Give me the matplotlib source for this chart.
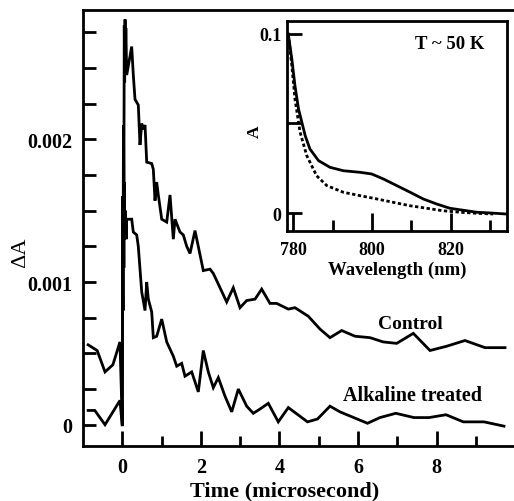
import matplotlib
matplotlib.use("Agg")
import matplotlib.pyplot as plt
import matplotlib.ticker as mticker

# ---------------------------------------------------------------------------
# Data
# ---------------------------------------------------------------------------
control_t = [-0.87, -0.64, -0.44, -0.24, -0.06, 0.0, 0.01, 0.02, 0.03, 0.04,
             0.05, 0.06, 0.07, 0.08, 0.09, 0.112, 0.239, 0.28, 0.323, 0.407,
             0.45, 0.494, 0.534, 0.578, 0.621, 0.748, 0.789, 0.832, 0.875,
             0.916, 1.003, 1.13, 1.214, 1.298, 1.341, 1.468, 1.552, 1.639,
             1.723, 1.85, 2.061, 2.232, 2.316, 2.656, 2.824, 2.995, 3.165,
             3.377, 3.547, 3.758, 3.929, 4.224, 4.394, 4.733, 5.031, 5.285,
             5.583, 5.921, 6.303, 6.641, 6.982, 7.405, 7.83, 8.254, 8.72,
             9.229, 9.738]
control_dA = [0.00056, 0.00052, 0.00037, 0.00042, 0.00058, 0.0, 0.0016,
              0.0012, 0.0021, 0.0017, 0.0028, 0.0024, 0.00284, 0.0026,
              0.00278, 0.00245, 0.00265, 0.00245, 0.00228, 0.00224, 0.00196,
              0.00211, 0.00207, 0.0021, 0.00184, 0.00183, 0.00179, 0.00157,
              0.0017, 0.00161, 0.00144, 0.00142, 0.00161, 0.0013, 0.00144,
              0.00135, 0.00133, 0.00125, 0.0012, 0.00136, 0.00108, 0.00109,
              0.00106, 0.00086, 0.00096, 0.00082, 0.00087, 0.00088, 0.00095,
              0.00085, 0.00085, 0.00081, 0.00082, 0.00076, 0.00067, 0.00061,
              0.00066, 0.00062, 0.00061, 0.00058, 0.00057, 0.00064, 0.00052,
              0.00055, 0.00059, 0.00054, 0.00054]

alkaline_t = [-0.87, -0.7, -0.44, -0.06, 0.0, 0.01, 0.02, 0.03, 0.04, 0.05,
              0.06, 0.08, 0.1, 0.112, 0.239, 0.28, 0.366, 0.407, 0.494, 0.578,
              0.621, 0.662, 0.748, 0.789, 0.875, 1.003, 1.13, 1.298, 1.384,
              1.511, 1.595, 1.766, 1.934, 2.061, 2.188, 2.316, 2.443, 2.613,
              2.784, 2.952, 3.165, 3.333, 3.504, 3.715, 3.969, 4.224, 4.712,
              4.967, 5.285, 5.539, 6.239, 6.557, 6.959, 7.422, 7.804, 8.237,
              8.677, 9.204, 9.712]
alkaline_dA = [0.0001, 0.0001, 0.0, 0.00017, -0.00001, 0.0012, 0.0008,
               0.0016, 0.0011, 0.0017, 0.0013, 0.0015, 0.0013, 0.00144,
               0.00144, 0.00135, 0.00133, 0.00125, 0.00093, 0.0008, 0.001,
               0.00088, 0.00079, 0.00061, 0.00062, 0.00074, 0.00058, 0.00048,
               0.00041, 0.00043, 0.00034, 0.00037, 0.00023, 0.00052, 0.00037,
               0.00026, 0.00033, 0.0002, 0.00009, 0.00025, 0.00013, 0.00008,
               0.00011, 0.00015, 0.00002, 0.00012, 0.00002, 0.00004, 0.00013,
               0.00009, 0.00001, 0.00005, 0.00008, 0.00005, 0.00005, 0.00007,
               0.00002, 0.00002, -0.00001]

# Inset: absorption spectra at T ~ 50 K
wl_solid = [778.7, 779.6, 780.4, 781.3, 783.0, 784.2, 786.4, 789.3, 792.7,
            797.0, 799.9, 802.9, 806.3, 809.7, 813.0, 816.4, 819.8, 823.2,
            826.6, 830.0, 834.2]
abs_solid = [0.0998, 0.0859, 0.071, 0.0581, 0.0432, 0.0358, 0.0293, 0.0256,
             0.0237, 0.0228, 0.0219, 0.0191, 0.0154, 0.0117, 0.008, 0.0052,
             0.0028, 0.0017, 0.0006, 0.0002, -0.0004]
wl_dotted = [778.7, 779.6, 780.4, 781.7, 783.4, 785.9, 788.5, 792.7, 797.0,
             801.2, 805.4, 809.7, 813.9, 818.1, 822.4, 826.6, 830.8]
abs_dotted = [0.0998, 0.0822, 0.0636, 0.0451, 0.0321, 0.0209, 0.0154, 0.0117,
              0.0098, 0.008, 0.0061, 0.0042, 0.0028, 0.0014, 0.0006, 0.0,
              -0.0004]

# ---------------------------------------------------------------------------
# Styling
# ---------------------------------------------------------------------------
plt.rcParams["font.family"] = ["Liberation Serif", "DejaVu Serif"]
plt.rcParams["font.weight"] = "bold"
LW = 2.0
SPINE_W = 2.0

fig = plt.figure(figsize=(5.14, 5.02), dpi=100)
fig.patch.set_facecolor("white")

# Main axes (right edge runs off the picture)
ax = fig.add_axes([0.1615, 0.1096, 0.841, 0.8685])
ax.plot(control_t, control_dA, color="black", lw=LW, solid_joinstyle="miter")
ax.plot(alkaline_t, alkaline_dA, color="black", lw=LW, solid_joinstyle="miter")

ax.set_xlim(-1.0, 10.0)
ax.set_ylim(-0.000149, 0.002906)
ax.spines["right"].set_visible(False)
for s in ["left", "bottom", "top"]:
    ax.spines[s].set_linewidth(SPINE_W)

ax.xaxis.set_major_locator(mticker.FixedLocator([0, 2, 4, 6, 8]))
ax.xaxis.set_minor_locator(mticker.FixedLocator([1, 3, 5, 7, 9]))
ax.yaxis.set_major_locator(mticker.FixedLocator([0, 0.001, 0.002]))
ax.yaxis.set_minor_locator(mticker.FixedLocator([0.00025, 0.0005, 0.00075,
                                                0.00125, 0.0015, 0.00175,
                                                0.00225, 0.0025, 0.00275]))
ax.yaxis.set_major_formatter(mticker.FuncFormatter(
    lambda v, p: "0" if v == 0 else f"{v:.3f}"))
ax.tick_params(axis="x", which="major", direction="in", length=11, width=2,
               labelsize=14.5, pad=8, top=False)
ax.tick_params(axis="x", which="minor", direction="in", length=7, width=2,
               top=False)
ax.tick_params(axis="y", which="both", direction="in", length=9, width=2,
               labelsize=14.5, pad=8, right=False)

ax.set_xlabel("Time (microsecond)", fontsize=16, fontweight="bold")
ax.xaxis.set_label_coords(0.467, -0.078)
ax.set_ylabel("ΔA", fontsize=16, fontweight="normal")
ax.yaxis.set_label_coords(-0.123, 0.445)

ax.text(7.32, 0.000706, "Control", fontsize=14, fontweight="bold",
        ha="center", va="center")
ax.text(7.38, 0.000208, "Alkaline treated", fontsize=14.5, fontweight="bold",
        ha="center", va="center")

# Inset axes
ins = fig.add_axes([0.5578, 0.5378, 0.4292, 0.419])
ins.plot(wl_solid, abs_solid, color="black", lw=LW)
ins.plot(wl_dotted, abs_dotted, color="black", lw=LW, linestyle=(0, (1.2, 0.9)))
ins.set_xlim(778.3, 834.4)
ins.set_ylim(-0.00986, 0.1072)
for s in ins.spines.values():
    s.set_linewidth(SPINE_W)

ins.xaxis.set_major_locator(mticker.FixedLocator([780, 800, 820]))
ins.xaxis.set_minor_locator(mticker.FixedLocator([790, 810, 830]))
ins.yaxis.set_major_locator(mticker.FixedLocator([0, 0.05, 0.1]))
ins.yaxis.set_major_formatter(mticker.FixedFormatter(["0", "", "0.1"]))
ins.tick_params(axis="x", which="major", direction="in", length=13, width=2,
                labelsize=13, pad=7)
ins.tick_params(axis="x", which="minor", direction="in", length=8, width=2)
ins.tick_params(axis="y", which="major", direction="in", length=11, width=2,
                labelsize=13, pad=4)

ins.set_xlabel("Wavelength (nm)", fontsize=13.5, fontweight="bold", labelpad=2)
ins.set_ylabel("A", fontsize=12.5, fontweight="bold")
ins.yaxis.set_label_coords(-0.11, 0.475)
ins.text(819.7, 0.0943, "T ~ 50 K", fontsize=13.5, fontweight="bold",
         ha="center", va="center")

fig.savefig("out.png", dpi=100, facecolor="white")
